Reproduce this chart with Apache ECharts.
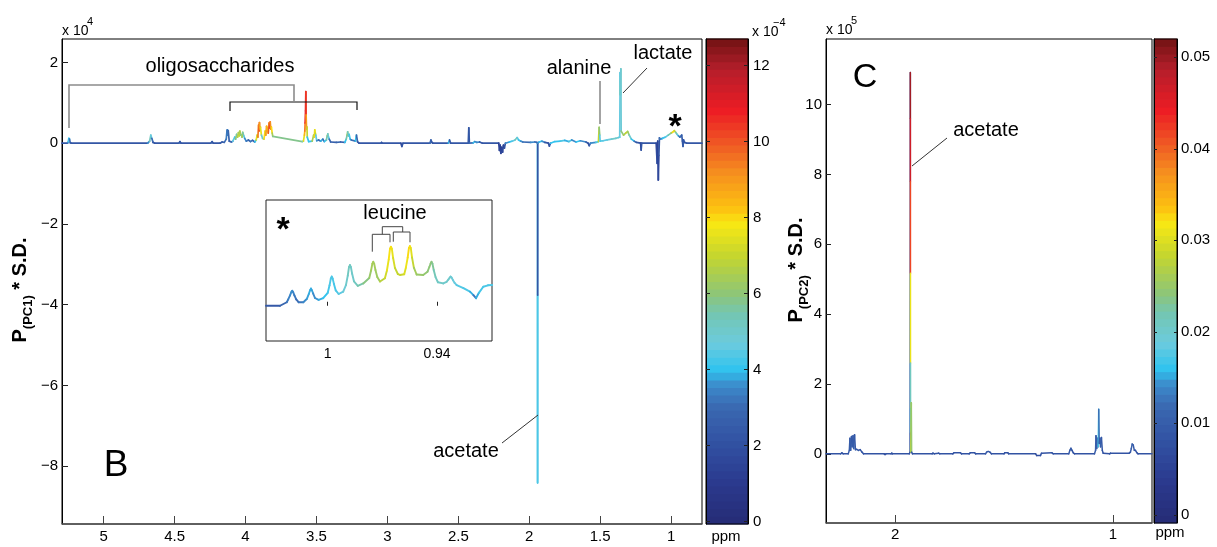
<!DOCTYPE html>
<html>
<head>
<meta charset="utf-8">
<script src="https://cdn.jsdelivr.net/npm/echarts@6/dist/echarts.min.js"></script>
<style>
html,body{margin:0;padding:0;background:#fff;}
#chart{width:1217px;height:547px;}
</style>
</head>
<body>
<div id="chart"></div>
<script>
// ---- Panel B: PC1 loadings, points are [ppm, loading (x1e4), colour value (x1e-4)] ----
const bSpectrum = [
  [5.294,0,2.2],[5.255,0,2.2],[5.250,0.03,3],[5.246,0.12,4.2],[5.241,0.10,4],[5.236,0.01,3],[5.228,0,2.2],
  [4.690,0,2.2],[4.676,0.05,3.5],[4.668,0.20,5.3],[4.661,0.12,4.6],[4.652,0.02,3],[4.640,0,2.2],
  [4.470,0,2.2],[4.463,0.04,2.6],[4.455,0,2.2],
  [4.245,0,2.2],[4.236,0.04,2.6],[4.228,0,2.2],
  [4.180,0,2.2],[4.165,0.03,2.5],[4.150,0.02,2.4],[4.136,0.10,3],[4.131,0.30,3.3],[4.129,0.33,3.4],[4.126,0.20,3.2],[4.122,0.31,3.4],[4.115,0.05,2.8],[4.100,0.03,2.6],
  [4.090,0.05,3],[4.076,0.15,4.5],[4.070,0.10,4.2],[4.063,0.22,6],[4.056,0.15,5.5],[4.050,0.26,6.8],[4.045,0.18,6.2],[4.040,0.30,7.2],[4.035,0.20,6.4],
  [4.030,0.21,6],[4.025,0.15,5.5],[4.020,0.27,6.6],[4.012,0.18,5.5],[4.006,0.12,4.5],
  [3.995,0.05,3.5],[3.980,0.08,3.2],[3.965,0.04,2.8],[3.950,0.07,3.2],[3.935,0.03,2.6],
  [3.925,0.08,4],[3.918,0.20,7.5],[3.913,0.15,7],[3.908,0.45,9.5],[3.905,0.30,8.6],[3.902,0.51,10.2],[3.898,0.35,9],[3.895,0.40,9.3],[3.888,0.20,7.5],[3.880,0.12,5],
  [3.870,0.10,5],[3.862,0.30,8],[3.857,0.20,7.5],[3.852,0.42,9],[3.845,0.35,8.5],[3.840,0.25,8],[3.835,0.50,10],[3.830,0.38,9.3],[3.826,0.53,10.5],[3.822,0.35,9.2],[3.818,0.40,9.5],[3.812,0.25,8],[3.808,0.17,6.5],
  [3.600,0.04,5.8],
  [3.592,0.05,5],[3.585,0.20,7.5],[3.582,0.30,8.5],[3.580,0.50,9.5],[3.577,0.80,10.8],[3.575,1.28,11.2],[3.573,0.70,10.5],[3.570,0.35,9],[3.567,0.40,9.2],[3.565,0.15,7],[3.555,0.04,4],
  [3.530,0.05,4],[3.520,0.20,6.5],[3.515,0.15,6.5],[3.512,0.33,8],[3.508,0.25,7.5],[3.505,0.20,7],[3.498,0.06,4.5],
  [3.485,0.08,3.5],[3.470,0.05,3],[3.455,0.10,3.8],[3.445,0.04,3],
  [3.430,0.08,4],[3.424,0.18,5.5],[3.420,0.23,6],[3.415,0.15,5],[3.410,0.10,4.5],[3.400,0.03,3],
  [3.360,0.02,2.6],[3.330,0.03,2.8],[3.300,0.02,2.6],
  [3.290,0.10,4],[3.284,0.20,5.5],[3.280,0.28,6.2],[3.275,0.18,5.3],[3.270,0.22,5.5],[3.262,0.10,4.2],[3.255,0.08,3.8],
  [3.225,0.05,3],[3.221,0.15,4],[3.218,0.20,4.3],[3.210,0.03,2.8],[3.200,0,2.2],
  [3.045,0,2.2],[3.041,0.02,2.5],[3.037,0,2.2],
  [2.905,0,2.2],[2.898,-0.08,1.5],[2.890,0,2.2],
  [2.700,0,2.2],[2.693,0.08,3],[2.686,0.02,2.4],[2.680,0,2.2],
  [2.570,0,2.2],[2.562,0.08,3.8],[2.554,0,2.2],
  [2.430,0,2.2],[2.426,0.38,2.5],[2.422,0,2.2],
  [2.395,0.01,3],[2.385,0.04,4],[2.370,0.02,3.5],[2.350,0.03,3.5],[2.330,0,2.2],
  [2.215,0,2.2],[2.210,-0.18,1.3],[2.205,-0.05,1.6],[2.200,-0.25,1.2],[2.193,-0.10,1.5],[2.188,-0.22,1.3],[2.182,-0.05,1.6],[2.175,-0.12,1.4],[2.168,0,2],
  [2.140,0.03,3.5],[2.120,0.05,4],[2.100,0.08,4.5],[2.085,0.14,5.3],[2.075,0.08,4.5],[2.060,0.05,4],[2.045,0.03,3.5],[1.990,0.02,3],[1.960,0.03,3.5],
  [1.946,0.02,3],[1.942,0,2.2],[1.941,-8.41,4.3],[1.9405,-3.76,4.3],[1.940,0,2.2],
  [1.930,0.03,3.5],[1.910,0.05,4],[1.890,0.02,3.5],[1.865,0,2.2],[1.858,-0.07,1.8],[1.850,0,2.2],
  [1.820,0.04,4],[1.780,0.05,4],[1.750,0.07,4.3],[1.720,0.04,3.8],[1.700,0.08,4.3],[1.670,0.03,3.5],[1.640,0.06,4],[1.600,0.03,3.5],
  [1.585,0,2.5],[1.577,-0.06,1.8],[1.568,0,2.5],
  [1.530,0.02,3.5],[1.512,0.04,4.3],[1.507,0.39,7],[1.503,0.20,6],[1.500,0.05,4.5],
  [1.480,0.06,4.3],[1.450,0.08,4.5],[1.420,0.10,4.7],[1.390,0.12,5],[1.370,0.14,5],
  [1.362,0.15,4.5],[1.359,1.75,4.6],[1.357,1.20,4.4],[1.354,1.84,5.6],[1.352,0.30,4.8],
  [1.335,0.20,6],[1.320,0.25,6.5],[1.306,0.29,7],[1.295,0.20,6.2],[1.280,0.10,5],[1.260,0.05,4],[1.245,0.02,3],
  [1.215,0,2.2],[1.211,-0.17,1.5],[1.207,0,2.2],
  [1.105,0,2.2],[1.098,-0.50,1.6],[1.094,0.05,2],[1.090,-0.91,1.4],[1.086,-0.30,1.6],[1.082,0.13,2.2],
  [1.075,0.10,3],[1.060,0.12,3.5],[1.040,0.15,4],[1.020,0.20,4.5],[1.000,0.25,5.5],[0.990,0.27,6.5],[0.977,0.31,8],[0.968,0.27,7],[0.958,0.22,5.5],[0.948,0.18,4.5],[0.938,0.15,3.5],
  [0.925,0.20,3],[0.920,0.05,2.5],[0.916,-0.08,2],[0.912,0.08,2.5],[0.905,0.02,2.2],[0.890,0,2.2],[0.782,0,2.2]
];

// ---- Inset: the 1.03-0.91 ppm region around leucine ----
const insetSpectrum = [
  [1.0339,0.000,2.2],[1.0262,0.000,2.3],[1.0225,0.015,2.8],
  [1.0217,0.027,3.2],[1.0207,0.044,3.4],[1.0200,0.058,3.5],[1.0195,0.064,3.6],[1.0190,0.058,3.5],[1.0183,0.044,3.4],[1.0173,0.027,3.2],[1.0160,0.015,3],[1.0134,0.015,3.2],
  [1.0114,0.030,3.5],[1.0104,0.050,3.7],[1.0097,0.066,3.8],[1.0092,0.073,3.8],[1.0087,0.066,3.8],[1.0080,0.052,3.7],[1.0070,0.033,3.5],[1.0050,0.025,3.6],[1.0025,0.032,3.8],
  [1.0000,0.055,4.0],[0.9990,0.087,4.2],[0.9983,0.116,4.3],[0.9978,0.124,4.3],[0.9973,0.116,4.3],[0.9966,0.093,4.3],[0.9956,0.065,4.2],[0.9940,0.050,4.3],[0.9915,0.060,4.5],
  [0.9900,0.088,4.8],[0.9890,0.128,5.0],[0.9883,0.165,5.2],[0.9878,0.173,5.2],[0.9873,0.165,5.2],[0.9866,0.136,5.1],[0.9856,0.104,5.0],[0.9835,0.085,5.2],[0.9805,0.095,5.5],
  [0.9772,0.118,5.9],[0.9762,0.150,6.2],[0.9755,0.179,6.4],[0.9750,0.187,6.5],[0.9745,0.179,6.4],[0.9738,0.152,6.4],[0.9728,0.122,6.3],[0.9713,0.103,6.3],[0.9686,0.117,6.8],
  [0.9675,0.150,7.2],[0.9665,0.197,7.6],[0.9658,0.243,7.9],[0.9653,0.251,8.0],[0.9648,0.243,7.9],[0.9641,0.203,7.6],[0.9631,0.161,7.3],[0.9615,0.135,7.0],[0.9603,0.131,7.0],
  [0.9580,0.134,7.1],[0.9571,0.162,7.4],[0.9561,0.205,7.7],[0.9554,0.246,8.0],[0.9549,0.254,8.0],[0.9544,0.246,7.9],[0.9537,0.205,7.5],[0.9527,0.162,7.0],[0.9512,0.133,6.4],[0.9476,0.131,6.2],
  [0.9452,0.145,6.1],[0.9442,0.165,6.0],[0.9435,0.180,6.0],[0.9430,0.187,6.0],[0.9425,0.179,5.9],[0.9418,0.152,5.7],[0.9408,0.122,5.4],[0.9395,0.100,5.2],[0.9366,0.095,5.1],
  [0.9347,0.102,5.0],[0.9337,0.112,5.0],[0.9330,0.120,5.0],[0.9325,0.124,5.0],[0.9320,0.120,4.9],[0.9313,0.110,4.8],[0.9303,0.097,4.7],[0.9292,0.088,4.6],
  [0.9255,0.075,4.4],[0.9219,0.060,4.3],[0.9200,0.045,3.8],[0.9186,0.032,3.2],[0.9170,0.055,3.8],[0.9146,0.081,4.2],[0.9120,0.087,4.3],[0.9097,0.088,4.3]
];

// ---- Panel C: PC2 loadings, points are [ppm, loading (x1e5), colour value] ----
const cSpectrum = [
  [2.317,0,0.008],[2.250,0,0.008],[2.244,0.03,0.009],[2.238,0,0.008],
  [2.215,0,0.008],[2.210,0.10,0.009],[2.207,0.45,0.010],[2.204,0.10,0.009],[2.200,0.50,0.010],[2.197,0.20,0.009],[2.193,0.52,0.010],
  [2.190,0.15,0.009],[2.186,0.55,0.010],[2.182,0.12,0.009],[2.176,0.13,0.009],[2.168,0.10,0.009],[2.160,0.12,0.009],[2.152,0.05,0.008],[2.145,0,0.008],
  [2.050,0,0.008],[2.046,-0.02,0.007],[2.042,0,0.008],[2.018,0,0.008],[2.015,0.02,0.008],[2.012,0,0.008],
  [1.935,0,0.008],[1.931,0.05,0.008],[1.9300,10.92,0.008],[1.9298,9.60,0.050],[1.9296,7.80,0.047],[1.9294,5.17,0.042],
  [1.9292,2.60,0.031],[1.9290,1.30,0.021],[1.9288,0.60,0.016],[1.9286,0.05,0.009],
  [1.9255,1.46,0.027],[1.924,0.05,0.025],[1.920,0,0.008],
  [1.830,0,0.008],[1.826,0.02,0.008],[1.820,0,0.008],[1.800,0.02,0.008],[1.795,0,0.008],
  [1.735,0,0.008],[1.730,0.03,0.008],[1.700,0.03,0.008],[1.695,0,0.008],[1.660,0,0.008],[1.655,0.03,0.008],[1.635,0.03,0.008],[1.630,0,0.008],
  [1.585,0,0.008],[1.580,0.05,0.009],[1.573,0.07,0.009],[1.565,0.05,0.009],[1.558,0,0.008],
  [1.500,0,0.008],[1.497,0.03,0.008],[1.482,0.03,0.008],[1.479,0,0.008],
  [1.355,0,0.008],[1.350,-0.05,0.007],[1.333,-0.05,0.007],[1.328,0.02,0.008],[1.280,0.03,0.008],[1.274,0,0.008],
  [1.203,0,0.008],[1.198,0.10,0.009],[1.193,0.16,0.009],[1.188,0.10,0.009],[1.182,0.03,0.008],[1.176,0,0.008],
  [1.085,0,0.008],[1.080,0.10,0.009],[1.078,0.52,0.010],[1.075,0.15,0.009],[1.071,0.45,0.010],[1.068,0.20,0.009],
  [1.0655,1.28,0.017],[1.063,0.30,0.012],[1.060,0.45,0.010],[1.057,0.20,0.009],[1.053,0.47,0.010],[1.049,0.10,0.009],[1.045,0.02,0.008],
  [1.015,0,0.008],[1.012,0.02,0.008],[0.925,0.02,0.008],
  [0.920,0.05,0.009],[0.916,0.15,0.009],[0.912,0.28,0.010],[0.907,0.25,0.010],[0.902,0.10,0.009],[0.897,0.10,0.009],[0.890,0.03,0.008],[0.885,0,0.008],[0.821,0,0.008]
];

// ---- tick labels ----
const bXTicks = [5, 4.5, 4, 3.5, 3, 2.5, 2, 1.5, 1];
const bYTicks = [-8, -6, -4, -2, 0, 2];
const bBarTicks = [0, 2, 4, 6, 8, 10, 12];
const insetXTicks = [1, 0.94];
const cXTicks = [2, 1];
const cYTicks = [0, 2, 4, 6, 8, 10];
const cBarTicks = [0, 0.01, 0.02, 0.03, 0.04, 0.05];

// axis and colour ranges
const B_X = [0.782, 5.294], B_Y = [-9.43, 2.58], B_BAR = [-0.06, 12.7];
const INSET_X = [0.9098, 1.0339], INSET_Y = [-0.15, 0.45];
const C_X = [0.821, 2.317], C_Y = [-1.98, 11.88], C_BAR = [-0.0009, 0.052];

const F = '"Liberation Sans", Arial, Helvetica, sans-serif';

// jet-like colour map, 64 steps
const jetStops = [
  [0, '#262d78'], [0.08, '#2b3a8e'], [0.157, '#3150a1'], [0.236, '#3a68b1'], [0.283, '#3c8bcb'],
  [0.315, '#2fc3ef'], [0.37, '#6bcbde'], [0.433, '#74c6b2'], [0.472, '#8cc57a'], [0.551, '#c3d530'],
  [0.622, '#f8e813'], [0.654, '#fcc011'], [0.724, '#f6921e'], [0.787, '#ef5a24'], [0.858, '#ed1c24'],
  [0.945, '#b41e2b'], [1, '#7a1416']
];
function hexToRgb(h) { return [1, 3, 5].map(i => parseInt(h.substr(i, 2), 16)); }
function sampleJet(t) {
  for (let i = 1; i < jetStops.length; i++) {
    if (t <= jetStops[i][0]) {
      const [t0, c0] = jetStops[i - 1], [t1, c1] = jetStops[i];
      const f = (t - t0) / (t1 - t0), a = hexToRgb(c0), b = hexToRgb(c1);
      return 'rgb(' + a.map((v, k) => Math.round(v + (b[k] - v) * f)).join(',') + ')';
    }
  }
  return jetStops[jetStops.length - 1][1];
}
const JET = [];
for (let i = 0; i < 64; i++) JET.push(sampleJet(i / 63));

// consecutive points -> coloured segments [x0, y0, x1, y1, colour]
function segments(points) {
  const out = [];
  for (let i = 1; i < points.length; i++) {
    out.push([points[i - 1][0], points[i - 1][1], points[i][0], points[i][1], points[i][2]]);
  }
  return out;
}
// colour bar cells [0, lo, 1, hi, colour]
function cells(range, n) {
  const [mn, mx] = range, step = (mx - mn) / n, out = [];
  for (let k = 0; k < n; k++) out.push([0, mn + k * step, 1, mn + (k + 1) * step, mn + (mx - mn) * k / (n - 1)]);
  return out;
}

function segmentRenderer(width) {
  return function (params, api) {
    const p0 = api.coord([api.value(0), api.value(1)]);
    const p1 = api.coord([api.value(2), api.value(3)]);
    return {
      type: 'line',
      shape: { x1: p0[0], y1: p0[1], x2: p1[0], y2: p1[1] },
      style: { stroke: api.visual('color'), lineWidth: width, lineCap: 'round' }
    };
  };
}
function renderCell(params, api) {
  const a = api.coord([api.value(0), api.value(1)]);
  const b = api.coord([api.value(2), api.value(3)]);
  return {
    type: 'rect',
    shape: { x: a[0], y: b[1] - 0.4, width: b[0] - a[0], height: a[1] - b[1] + 0.8 },
    style: { fill: api.visual('color') }
  };
}

const minus = v => (v < 0 ? '\u2212' + (-v) : String(v));
const segDims = ['x0', 'y0', 'x1', 'y1', 'c'];

function valueAxis(o) {
  return Object.assign({
    type: 'value',
    splitLine: { show: false },
    axisLine: { show: true, onZero: false, lineStyle: { color: '#000', width: 1 } },
    axisTick: { show: true, inside: true, length: 5, lineStyle: { color: '#222' } },
    axisLabel: { color: '#000', fontSize: 15, fontFamily: F, margin: 5 }
  }, o);
}

const chart = echarts.init(document.getElementById('chart'), null, { renderer: 'canvas' });

const option = {
  animation: false,
  backgroundColor: '#fff',
  textStyle: { fontFamily: F },
  grid: [
    { left: 62, top: 39, width: 640, height: 485, show: true, borderColor: '#000', borderWidth: 1, outerBoundsMode: 'none' },
    { left: 706, top: 39, width: 42, height: 485, show: true, borderColor: '#000', borderWidth: 1, z: 10, outerBoundsMode: 'none' },
    { left: 266, top: 200, width: 226, height: 141, show: true, borderColor: '#222', borderWidth: 1, backgroundColor: '#fff', outerBoundsMode: 'none' },
    { left: 826, top: 39, width: 326, height: 484, show: true, borderColor: '#000', borderWidth: 1, outerBoundsMode: 'none' },
    { left: 1154, top: 39, width: 23, height: 484, show: true, borderColor: '#000', borderWidth: 1, z: 10, outerBoundsMode: 'none' }
  ],
  xAxis: [
    valueAxis({ gridIndex: 0, inverse: true, min: B_X[0], max: B_X[1],
      axisLine: { show: true, onZero: false, lineStyle: { color: '#555', width: 1.6 } },
      axisTick: { show: true, inside: true, length: 8, customValues: bXTicks, lineStyle: { color: '#444' } },
      axisLabel: { customValues: bXTicks, color: '#000', fontSize: 15, fontFamily: F, margin: 5 } }),
    { gridIndex: 1, type: 'value', min: 0, max: 1, show: false },
    valueAxis({ gridIndex: 2, inverse: true, min: INSET_X[0], max: INSET_X[1],
      axisLine: { show: false },
      axisTick: { show: true, inside: true, length: 4, customValues: insetXTicks, lineStyle: { color: '#222' } },
      axisLabel: { customValues: insetXTicks, color: '#000', fontSize: 14, fontFamily: F, margin: 6 } }),
    valueAxis({ gridIndex: 3, inverse: true, min: C_X[0], max: C_X[1],
      axisLine: { show: true, onZero: false, lineStyle: { color: '#555', width: 1.6 } },
      axisTick: { show: true, inside: true, length: 8, customValues: cXTicks, lineStyle: { color: '#444' } },
      axisLabel: { customValues: cXTicks, color: '#000', fontSize: 15, fontFamily: F, margin: 4 } }),
    { gridIndex: 4, type: 'value', min: 0, max: 1, show: false }
  ],
  yAxis: [
    valueAxis({ gridIndex: 0, min: B_Y[0], max: B_Y[1],
      axisTick: { show: true, inside: true, length: 6, customValues: bYTicks, lineStyle: { color: '#222' } },
      axisLabel: { customValues: bYTicks, formatter: minus, color: '#000', fontSize: 15, fontFamily: F, margin: 4 } }),
    valueAxis({ gridIndex: 1, position: 'right', min: B_BAR[0], max: B_BAR[1], z: 12,
      axisTick: { show: true, inside: true, length: 4, customValues: bBarTicks, lineStyle: { color: '#222' } },
      axisLabel: { customValues: bBarTicks, color: '#000', fontSize: 15, fontFamily: F, margin: 5 } }),
    { gridIndex: 2, type: 'value', min: INSET_Y[0], max: INSET_Y[1], show: false },
    valueAxis({ gridIndex: 3, min: C_Y[0], max: C_Y[1],
      axisTick: { show: true, inside: true, length: 5, customValues: cYTicks, lineStyle: { color: '#222' } },
      axisLabel: { customValues: cYTicks, color: '#000', fontSize: 15, fontFamily: F, margin: 4 } }),
    valueAxis({ gridIndex: 4, position: 'right', min: C_BAR[0], max: C_BAR[1], z: 12,
      axisTick: { show: true, inside: true, length: 3, customValues: cBarTicks, lineStyle: { color: '#222' } },
      axisLabel: { customValues: cBarTicks, color: '#000', fontSize: 15, fontFamily: F, margin: 4 } }),
    valueAxis({ gridIndex: 1, position: 'left', min: B_BAR[0], max: B_BAR[1], z: 12,
      axisTick: { show: true, inside: true, length: 4, customValues: bBarTicks, lineStyle: { color: '#222' } },
      axisLabel: { show: false } }),
    valueAxis({ gridIndex: 4, position: 'left', min: C_BAR[0], max: C_BAR[1], z: 12,
      axisTick: { show: true, inside: true, length: 3, customValues: cBarTicks, lineStyle: { color: '#222' } },
      axisLabel: { show: false } })
  ],
  visualMap: [
    { type: 'continuous', show: false, min: B_BAR[0], max: B_BAR[1], dimension: 4, seriesIndex: [0, 1, 2], inRange: { color: JET } },
    { type: 'continuous', show: false, min: C_BAR[0], max: C_BAR[1], dimension: 4, seriesIndex: [3, 4], inRange: { color: JET } }
  ],
  series: [
    { type: 'custom', name: 'PC1', xAxisIndex: 0, yAxisIndex: 0, dimensions: segDims, encode: { x: [0, 2], y: [1, 3] },
      renderItem: segmentRenderer(1.7), data: segments(bSpectrum), silent: true },
    { type: 'custom', name: 'PC1 colour bar', xAxisIndex: 1, yAxisIndex: 1, dimensions: segDims, encode: { x: [0, 2], y: [1, 3] },
      renderItem: renderCell, data: cells(B_BAR, 64), silent: true },
    { type: 'custom', name: 'PC1 inset', xAxisIndex: 2, yAxisIndex: 2, dimensions: segDims, encode: { x: [0, 2], y: [1, 3] },
      renderItem: segmentRenderer(1.9), data: segments(insetSpectrum), silent: true, z: 5 },
    { type: 'custom', name: 'PC2', xAxisIndex: 3, yAxisIndex: 3, dimensions: segDims, encode: { x: [0, 2], y: [1, 3] },
      renderItem: segmentRenderer(1.5), data: segments(cSpectrum), silent: true },
    { type: 'custom', name: 'PC2 colour bar', xAxisIndex: 4, yAxisIndex: 4, dimensions: segDims, encode: { x: [0, 2], y: [1, 3] },
      renderItem: renderCell, data: cells(C_BAR, 64), silent: true }
  ]
};

// ---- annotations ----
function label(text, x, y, size, extra) {
  return Object.assign({ type: 'text', x: x, y: y, z: 100, silent: true,
    style: Object.assign({ text: text, fontSize: size, fontFamily: F, fill: '#000', textAlign: 'center', textVerticalAlign: 'middle' }, extra || {}) });
}
function path(points, color, width) {
  return { type: 'polyline', z: 100, silent: true, shape: { points: points }, style: { stroke: color, lineWidth: width, fill: null } };
}
function axisTitle(sub, x, y) {
  return { type: 'text', x: x, y: y, rotation: Math.PI / 2, z: 100, silent: true,
    style: {
      text: '{a|P}{b|(' + sub + ')}{a| * S.D.}',
      textAlign: 'center', textVerticalAlign: 'middle',
      rich: {
        a: { fontSize: 20, fontWeight: 'bold', fontFamily: F, lineHeight: 21, verticalAlign: 'top', fill: '#000' },
        b: { fontSize: 13, fontWeight: 'bold', fontFamily: F, lineHeight: 13, verticalAlign: 'top', padding: [11, 0, 0, 0], fill: '#000' }
      }
    } };
}
function exponent(base, exp, x, y, expDx) {
  return [
    label(base, x, y, 14, { textAlign: 'left' }),
    label(exp, x + expDx, y - 9, 11, { textAlign: 'left' })
  ];
}

option.graphic = { elements: [
  // panel B
  label('oligosaccharides', 220, 66, 20),
  path([[69, 128], [69, 85], [294, 85], [294, 101]], '#8c8c8c', 1.6),
  path([[230, 111], [230, 102], [357, 102], [357, 110]], '#111', 1.2),
  label('alanine', 579, 68, 20),
  path([[600, 81], [600, 124]], '#8c8c8c', 1.6),
  label('lactate', 663, 53, 20),
  path([[647, 68], [623, 93]], '#333', 1),
  label('*', 675, 128, 34, { fontWeight: 'bold' }),
  label('acetate', 466, 451, 20),
  path([[502, 443], [538, 415]], '#333', 1),
  label('B', 116, 466, 37),
  axisTitle('PC1', 21, 290),
  ...exponent('x 10', '4', 62, 31, 25),
  ...exponent('x 10', '\u22124', 752, 32, 21),
  label('ppm', 726, 537, 15),
  // inset
  label('*', 283, 231, 34, { fontWeight: 'bold' }),
  label('leucine', 395, 213, 20),
  path([[382.3, 234.3], [382.3, 226.7], [402.7, 226.7], [402.7, 232]], '#444', 1),
  path([[372.3, 251.7], [372.3, 234.3], [390, 234.3], [390, 242.3]], '#444', 1),
  path([[393.3, 241.7], [393.3, 232], [410, 232], [410, 242.3]], '#444', 1),
  // panel C
  label('C', 865, 78, 34),
  label('acetate', 986, 130, 20),
  path([[947, 138], [912, 166]], '#333', 1),
  axisTitle('PC2', 797, 270),
  ...exponent('x 10', '5', 826, 30, 25),
  label('ppm', 1170, 533, 15)
] };

chart.setOption(option);
</script>
</body>
</html>
